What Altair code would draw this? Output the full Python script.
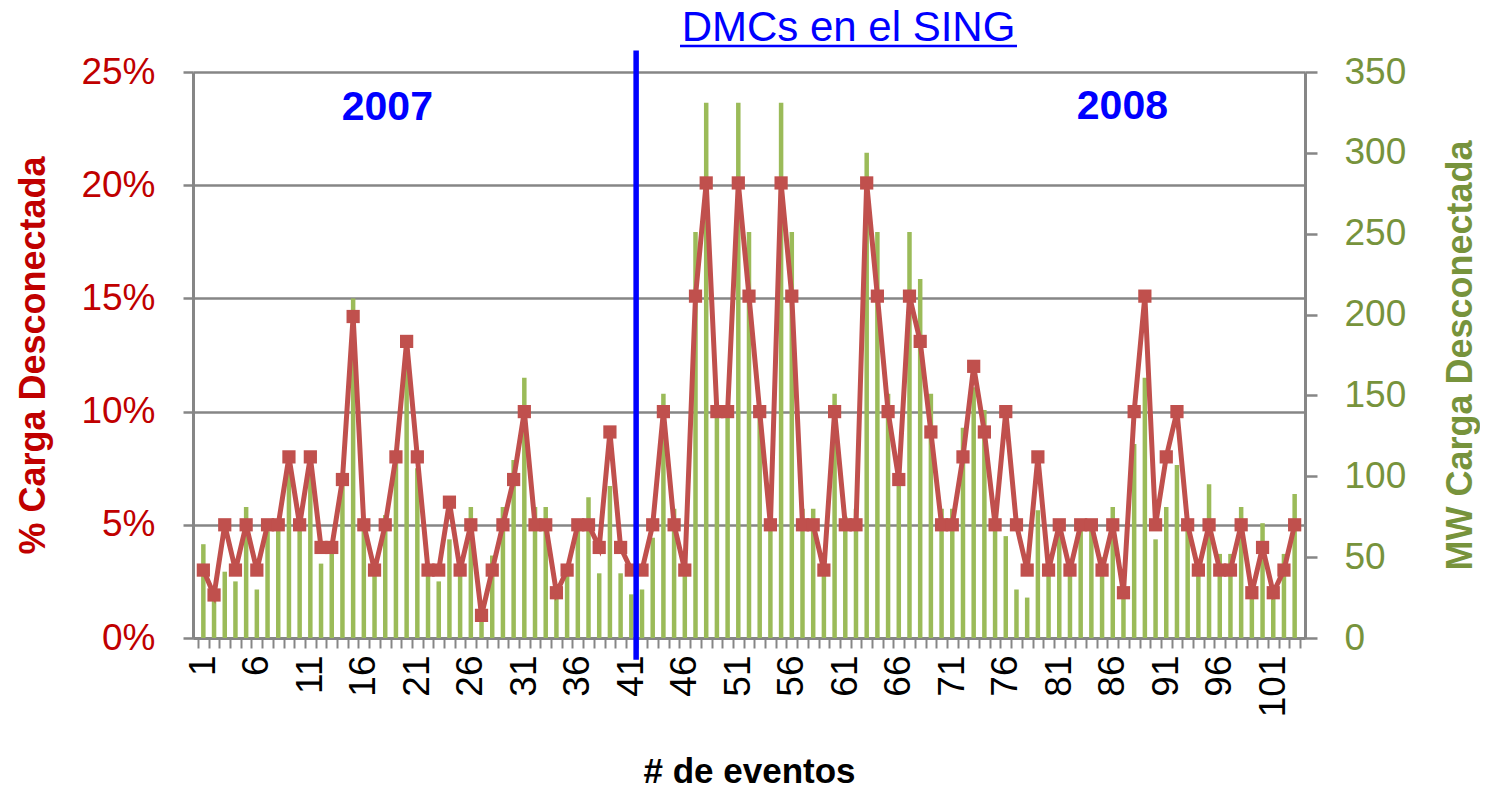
import altair as alt
import pandas as pd

# ---------------- data ----------------
eventos = list(range(1, 104))

pct_carga = [3, 1.9, 5, 3, 5, 3, 5, 5, 8, 5,
             8, 4, 4, 7, 14.2, 5, 3, 5, 8, 13.1,
             8, 3, 3, 6, 3, 5, 1, 3, 5, 7,
             10, 5, 5, 2, 3, 5, 5, 4, 9.1, 4,
             3, 3, 5, 10, 5, 3, 15.1, 20.1, 10, 10,
             20.1, 15.1, 10, 5, 20.1, 15.1, 5, 5, 3, 10,
             5, 5, 20.1, 15.1, 10, 7, 15.1, 13.1, 9.1, 5,
             5, 8, 12, 9.1, 5, 10, 5, 3, 8, 3,
             5, 3, 5, 5, 3, 5, 2, 10, 15.1, 5,
             8, 10, 5, 3, 5, 3, 3, 5, 2, 4,
             2, 3, 5]

mw_carga = [58, 25, 41, 35, 81, 30, 66, 68, 105, 70,
            101, 46, 55, 95, 210, 70, 40, 76, 110, 180,
            105, 40, 35, 61, 40, 81, 12, 51, 81, 110,
            161, 81, 81, 28, 40, 70, 87, 40, 94, 40,
            27, 30, 62, 151, 80, 40, 251, 331, 140, 140,
            331, 251, 140, 70, 331, 251, 80, 80, 40, 151,
            75, 80, 300, 251, 151, 98, 251, 222, 151, 80,
            80, 130, 155, 141, 70, 63, 30, 25, 79, 40,
            68, 40, 70, 70, 50, 81, 25, 120, 161, 61,
            81, 107, 70, 40, 95, 52, 52, 81, 25, 71,
            25, 52, 89]

x_tick_labels = [1, 6, 11, 16, 21, 26, 31, 36, 41, 46, 51, 56, 61, 66, 71, 76, 81, 86, 91, 96, 101]
pct_ticks = [0, 0.05, 0.10, 0.15, 0.20, 0.25]
mw_ticks = [0, 50, 100, 150, 200, 250, 300, 350]

anio_labels = ["2007", "2008"]
anio_x = [18.2, 86.9]
anio_y = [0.2340, 0.2346]

division_x = [41.45]
division_top = [0.2595]
division_bottom = [-0.0096]

titulo = "DMCs en el SING"

# ---------------- tables ----------------
df = pd.DataFrame({"evento": eventos,
                   "pct": [v / 100 for v in pct_carga],
                   "mw": mw_carga})
anio_df = pd.DataFrame({"evento": anio_x, "pct": anio_y, "label": anio_labels})
div_df = pd.DataFrame({"evento": division_x, "pct": division_top, "pct2": division_bottom})
boundaries = [i + 0.5 for i in range(0, 104)]

FONT = "Liberation Sans"
GRAY = "#868686"

x_scale = alt.Scale(domain=[0.5, 103.5], nice=False, zero=False)
pct_scale = alt.Scale(domain=[0, 0.25], nice=False)
mw_scale = alt.Scale(domain=[0, 350], nice=False)

x_label_axis = alt.Axis(orient="bottom", values=x_tick_labels, labelAngle=270,
                        labelAlign="right", labelBaseline="middle",
                        labelFontSize=37, labelFont=FONT, labelColor="black",
                        labelFlush=False, labelOverlap=False, labelPadding=17,
                        ticks=False, tickSize=0, grid=False,
                        domainColor=GRAY, domainWidth=3,
                        title="# de eventos", titleFont=FONT, titleFontSize=35,
                        titleFontWeight="bold", titleColor="black", titlePadding=38)

x_tick_axis = alt.Axis(orient="bottom", values=boundaries, labels=False, ticks=True,
                       tickSize=10, tickColor=GRAY, tickWidth=2, domain=False,
                       grid=False, title=None)

pct_axis = alt.Axis(orient="left", values=pct_ticks, format=".0%", grid=True,
                    gridColor=GRAY, gridWidth=2.5, domainColor=GRAY, domainWidth=3,
                    tickColor=GRAY, tickSize=10, tickWidth=2.5,
                    labelColor="#C00000", labelFontSize=37, labelFont=FONT, labelPadding=28,
                    title="% Carga Desconectada", titleColor="#C00000", titleFontSize=36,
                    titleFont=FONT, titleFontWeight="bold", titlePadding=28)

mw_axis = alt.Axis(orient="right", values=mw_ticks, grid=False,
                   domainColor=GRAY, domainWidth=3, tickColor=GRAY, tickSize=12, tickWidth=2.5,
                   labelColor="#77933C", labelFontSize=37, labelFont=FONT, labelPadding=27,
                   title="MW Carga Desconectada", titleColor="#77933C", titleFontSize=36,
                   titleFont=FONT, titleFontWeight="bold", titlePadding=74, titleAngle=270)

bars = alt.Chart(df).mark_bar(size=4.5, color="#9BBB59").encode(
    x=alt.X("evento:Q", scale=x_scale, axis=x_label_axis),
    y=alt.Y("mw:Q", scale=mw_scale, axis=mw_axis),
)

line = alt.Chart(df).mark_line(
    color="#C0504D", strokeWidth=5,
    point=alt.OverlayMarkDef(shape="square", size=175, color="#C0504D", filled=True, opacity=1),
).encode(
    x=alt.X("evento:Q", scale=x_scale, axis=x_tick_axis),
    y=alt.Y("pct:Q", scale=pct_scale, axis=pct_axis),
)

rule = alt.Chart(div_df).mark_rule(color="#0000FF", strokeWidth=5.5).encode(
    x=alt.X("evento:Q", scale=x_scale, axis=x_tick_axis),
    y=alt.Y("pct:Q", scale=pct_scale, axis=pct_axis),
    y2="pct2:Q",
)

anios = alt.Chart(anio_df).mark_text(font=FONT, fontSize=41, fontWeight="bold",
                                     color="#0000FF", align="center", baseline="middle").encode(
    x=alt.X("evento:Q", scale=x_scale, axis=x_tick_axis),
    y=alt.Y("pct:Q", scale=pct_scale, axis=pct_axis),
    text="label:N",
)

title_text = alt.Chart(pd.DataFrame({"t": [titulo]})).mark_text(
    font=FONT, fontSize=42, color="#0000FF", align="center", baseline="alphabetic"
).encode(x=alt.value(655.5), y=alt.value(-31), text="t:N")

underline = alt.Chart(pd.DataFrame({"t": [titulo]})).mark_rule(
    color="#0000FF", strokeWidth=2.5
).encode(x=alt.value(487), x2=alt.value(824), y=alt.value(-26))

inner = alt.layer(line, rule, anios, title_text, underline)

chart = alt.layer(bars, inner).resolve_scale(y="independent").resolve_axis(
    x="independent"
).properties(
    width=1112, height=566,
    padding={"left": 185, "top": 64, "right": 175, "bottom": 149},
    autosize=alt.AutoSizeParams(type="none"),
    background="white",
).configure_view(stroke="transparent")

chart.save("out.html", embed_options={"renderer": "svg", "actions": False})
